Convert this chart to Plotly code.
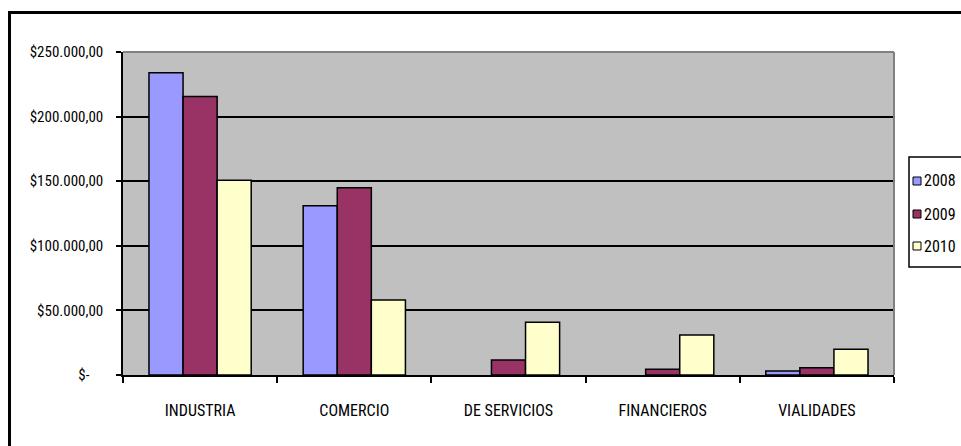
import plotly.graph_objects as go

categories = ["INDUSTRIA", "COMERCIO", "DE SERVICIOS", "FINANCIEROS", "VIALIDADES"]
series_names = ["2008", "2009", "2010"]
values_2008 = [234000, 131000, None, None, 3100]
values_2009 = [215500, 145000, 11600, 4400, 5700]
values_2010 = [150800, 58000, 40800, 31000, 19900]
colors = ["#9999FF", "#993366", "#FFFFCC"]
y_tickvals = [0, 50000, 100000, 150000, 200000, 250000]
y_ticktext = ["$-\u00a0\u00a0\u00a0\u00a0", "$50.000,00", "$100.000,00", "$150.000,00",
              "$200.000,00", "$250.000,00"]

FONT = "Liberation Sans Narrow, Arial Narrow, Roboto Condensed, Liberation Sans, Arial, sans-serif"

fig = go.Figure()
for name, vals, col in zip(series_names, [values_2008, values_2009, values_2010], colors):
    fig.add_trace(go.Bar(
        x=categories, y=vals, name=name,
        marker=dict(color=col, line=dict(color="black", width=1.5)),
        showlegend=False,
    ))

W, H = 961, 446
L, R, T, B = 123, 961 - 894, 52, 446 - 375
pw, ph = W - L - R, H - T - B

def px(x):
    return (x - L) / pw

def py(y):
    return (H - B - y) / ph

shapes = [
    dict(type="line", xref="paper", yref="paper", x0=0, x1=1, y0=1, y1=1,
         line=dict(color="#808080", width=2), layer="above"),
    dict(type="line", xref="paper", yref="paper", x0=1, x1=1, y0=0, y1=1,
         line=dict(color="#808080", width=2), layer="above"),
    dict(type="rect", xref="paper", yref="paper",
         x0=px(9.5), x1=px(1000), y0=py(12.5), y1=py(480),
         line=dict(color="black", width=3), layer="above"),
    # legend box
    dict(type="rect", xref="paper", yref="paper",
         x0=px(909), x1=px(990), y0=py(157), y1=py(267),
         line=dict(color="black", width=1.5), fillcolor="white", layer="above"),
]
annotations = []
legend_rows_y = [181, 214, 246]
for name, col, yc in zip(series_names, colors, legend_rows_y):
    shapes.append(dict(type="rect", xref="paper", yref="paper",
                       x0=px(913), x1=px(921), y0=py(yc - 4), y1=py(yc + 4),
                       line=dict(color="black", width=1), fillcolor=col, layer="above"))
    annotations.append(dict(xref="paper", yref="paper", x=px(922), y=py(yc),
                            xanchor="left", yanchor="middle", showarrow=False,
                            text=name, font=dict(family=FONT, size=16, color="black")))

fig.update_layout(
    width=W, height=H,
    margin=dict(l=L, r=R, t=T, b=B, pad=0, autoexpand=False),
    paper_bgcolor="white",
    plot_bgcolor="#C0C0C0",
    barmode="group",
    bargap=0.337,
    bargroupgap=0,
    font=dict(family=FONT, size=16, color="black"),
    showlegend=False,
    xaxis=dict(
        type="category",
        showline=True, linecolor="black", linewidth=1.5,
        ticks="outside", ticklen=6, tickcolor="black", tickwidth=1.5,
        tickson="boundaries",
        showgrid=False,
        ticklabelstandoff=20,
        tickfont=dict(family=FONT, size=16, color="black"),
    ),
    yaxis=dict(
        range=[0, 250000],
        tickvals=y_tickvals, ticktext=y_ticktext,
        showline=True, linecolor="black", linewidth=1.5,
        ticks="outside", ticklen=5, tickcolor="black", tickwidth=1.5,
        showgrid=True, gridcolor="black", gridwidth=1.5,
        zeroline=False,
        ticklabelstandoff=10,
        tickfont=dict(family=FONT, size=15, color="black"),
    ),
    shapes=shapes,
    annotations=annotations,
)

fig.write_html("out.html")
